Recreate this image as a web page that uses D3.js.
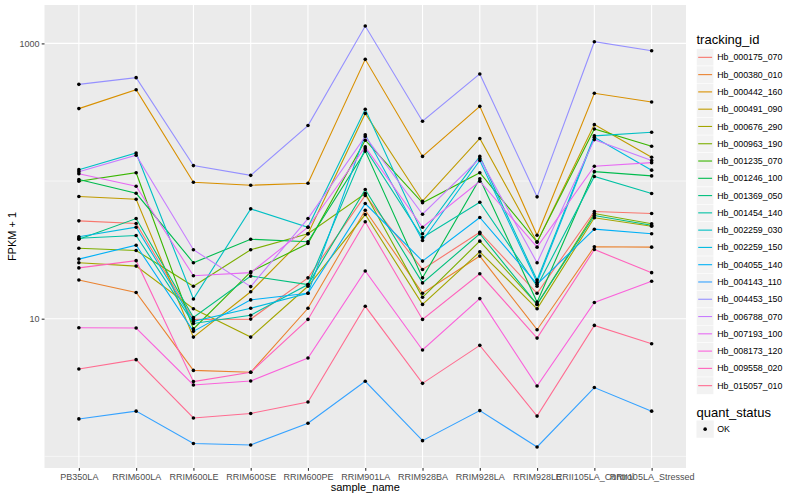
<!DOCTYPE html>
<html><head><meta charset="utf-8">
<script src="https://cdn.jsdelivr.net/npm/d3@7"></script>
<style>body{margin:0;background:#fff}svg{display:block}text{font-family:"Liberation Sans",Arial,sans-serif}</style>
</head><body>
<svg id="chart" width="800" height="500"></svg>
<script>
const samples = ["PB350LA","RRIM600LA","RRIM600LE","RRIM600SE","RRIM600PE","RRIM901LA","RRIM928BA","RRIM928LA","RRIM928LE","RRII105LA_Control","RRII105LA_Stressed"];
const trackingIds = ["Hb_000175_070","Hb_000380_010","Hb_000442_160","Hb_000491_090","Hb_000676_290","Hb_000963_190","Hb_001235_070","Hb_001246_100","Hb_001369_050","Hb_001454_140","Hb_002259_030","Hb_002259_150","Hb_004055_140","Hb_004143_110","Hb_004453_150","Hb_006788_070","Hb_007193_100","Hb_008173_120","Hb_009558_020","Hb_015057_010"];
const colors = ["#F8766D","#EA8331","#D89000","#C09B00","#A3A500","#7CAE00","#39B600","#00BB4E","#00BF7D","#00C1A3","#00BFC4","#00BAE0","#00B0F6","#35A2FF","#9590FF","#C77CFF","#E76BF3","#FA62DB","#FF62BC","#FF6C91"];
// FPKM + 1 per sample (same order as samples)
const hb_000175_070 = [51.4, 49.1, 9.88, 9.93, 19.8, 78.5, 22.8, 42.5, 15.3, 60.1, 58.1];
const hb_000380_010 = [19.1, 15.5, 4.21, 4.08, 11.9, 61.4, 15.3, 28.5, 8.32, 33.3, 33.1];
const hb_000442_160 = [336, 461, 98.0, 93.2, 96.4, 766, 151, 349, 40.4, 434, 375];
const hb_000491_090 = [77.2, 73.8, 7.35, 15.7, 41.4, 310, 71.4, 204, 36.0, 257, 149];
const hb_000676_290 = [25.5, 24.1, 11.8, 7.35, 17.2, 57.1, 12.7, 30.6, 11.8, 54.1, 47.0];
const hb_000963_190 = [32.5, 31.3, 17.2, 31.7, 41.4, 81.2, 14.3, 36.6, 12.7, 58.1, 48.9];
const hb_001235_070 = [99.7, 115, 8.43, 21.9, 35.2, 198, 69.5, 115, 36.0, 239, 179];
const hb_001246_100 = [102.5, 81.5, 25.5, 37.8, 36.2, 165, 19.8, 104, 13.2, 117, 109];
const hb_001369_050 = [37.8, 53.4, 10.2, 20.4, 17.7, 86.8, 18.2, 41.4, 12.7, 56.2, 47.8];
const hb_001454_140 = [38.4, 40.2, 9.24, 10.6, 17.7, 172, 38.9, 70.2, 17.2, 108, 81.2];
const hb_002259_030 = [121, 160, 13.9, 62.8, 46.2, 332, 41.4, 151, 19.1, 213, 226];
const hb_002259_150 = [39.4, 46.2, 9.56, 11.9, 15.3, 217, 37.0, 141, 18.4, 208, 120];
const hb_004055_140 = [27.1, 34.2, 8.09, 13.7, 15.3, 68.7, 26.2, 54.4, 17.8, 44.7, 41.4];
const hb_004143_110 = [1.87, 2.13, 1.24, 1.21, 1.74, 3.51, 1.30, 2.15, 1.17, 3.16, 2.13];
const hb_004453_150 = [504, 564, 129.5, 110, 253, 1337, 272, 600, 76.8, 1029, 885];
const hb_006788_070 = [117, 154, 31.7, 17.1, 53.4, 211, 57.4, 146, 25.5, 200, 141];
const hb_007193_100 = [113, 91.7, 20.5, 21.6, 46.2, 177, 46.2, 99.7, 33.1, 128, 136];
const hb_008173_120 = [8.60, 8.55, 3.30, 3.53, 5.18, 22.2, 5.92, 14.0, 3.24, 13.1, 18.7];
const hb_009558_020 = [23.4, 26.4, 3.49, 4.08, 9.88, 50.6, 9.88, 21.2, 7.23, 31.8, 21.6];
const hb_015057_010 = [4.31, 5.04, 1.90, 2.05, 2.48, 12.3, 3.39, 6.40, 1.96, 8.94, 6.58];
const seriesValues = [hb_000175_070,hb_000380_010,hb_000442_160,hb_000491_090,hb_000676_290,hb_000963_190,hb_001235_070,hb_001246_100,hb_001369_050,hb_001454_140,hb_002259_030,hb_002259_150,hb_004055_140,hb_004143_110,hb_004453_150,hb_006788_070,hb_007193_100,hb_008173_120,hb_009558_020,hb_015057_010];
const yMajorTicks = [10, 1000];
const yMinorTicks = [1, 100];
const quantStatus = ["OK"];

const series = trackingIds.map((id, i) => ({id, color: colors[i], values: seriesValues[i].map((v, j) => ({sample: samples[j], v}))}));

const svg = d3.select("#chart");
const P = {left: 44.5, right: 686, top: 5, bottom: 468};

const allV = seriesValues.flat();
const lo = Math.log10(d3.min(allV)), hi = Math.log10(d3.max(allV));
const pad = (hi - lo) * 0.05;
const x = d3.scalePoint().domain(samples).range([P.left, P.right]).padding(0.6);
const y = d3.scaleLog().domain([Math.pow(10, lo - pad), Math.pow(10, hi + pad)]).range([P.bottom, P.top]);

svg.append("rect").attr("x", P.left).attr("y", P.top).attr("width", P.right - P.left).attr("height", P.bottom - P.top).attr("fill", "#EBEBEB");
const grid = svg.append("g");
grid.selectAll("line.minor").data(yMinorTicks).enter().append("line")
  .attr("x1", P.left).attr("x2", P.right).attr("y1", d => y(d)).attr("y2", d => y(d))
  .attr("stroke", "#fff").attr("stroke-width", 0.55);
grid.selectAll("line.majory").data(yMajorTicks).enter().append("line")
  .attr("x1", P.left).attr("x2", P.right).attr("y1", d => y(d)).attr("y2", d => y(d))
  .attr("stroke", "#fff").attr("stroke-width", 1.1);
grid.selectAll("line.majorx").data(samples).enter().append("line")
  .attr("x1", d => x(d)).attr("x2", d => x(d)).attr("y1", P.top).attr("y2", P.bottom)
  .attr("stroke", "#fff").attr("stroke-width", 1.1);

const line = d3.line().x(d => x(d.sample)).y(d => y(d.v));
svg.append("g").selectAll("path").data(series).enter().append("path")
  .attr("d", d => line(d.values)).attr("fill", "none").attr("stroke", d => d.color).attr("stroke-width", 1.1);
svg.append("g").selectAll("g").data(series).enter().append("g")
  .selectAll("circle").data(d => d.values).enter().append("circle")
  .attr("cx", d => x(d.sample)).attr("cy", d => y(d.v)).attr("r", 1.8).attr("fill", "#000");

// axes
const yAxis = d3.axisLeft(y).tickValues(yMajorTicks).tickFormat(d3.format("d")).tickSize(2.8).tickPadding(2.2);
const gy = svg.append("g").attr("transform", `translate(${P.left},0)`).call(yAxis);
const xAxis = d3.axisBottom(x).tickSize(2.8).tickPadding(2.5);
const gx = svg.append("g").attr("transform", `translate(0,${P.bottom})`).call(xAxis);
[gx, gy].forEach(g => {
  g.select(".domain").remove();
  g.selectAll(".tick line").attr("stroke", "#333").attr("stroke-width", 1.1);
  g.selectAll(".tick text").attr("fill", "#4D4D4D").style("font-size", "9px").style("font-family", '"Liberation Sans",Arial,sans-serif');
});

svg.append("text").attr("x", (P.left + P.right) / 2).attr("y", 491).attr("text-anchor", "middle")
  .style("font-size", "11px").attr("fill", "#000").text("sample_name");
svg.append("text").attr("transform", `translate(16,${(P.top + P.bottom) / 2}) rotate(-90)`).attr("text-anchor", "middle")
  .style("font-size", "11px").attr("fill", "#000").text("FPKM + 1");

// legend: tracking_id
const key = 17.28, lx = 696.5, ly0 = 48.7;
const leg = svg.append("g");
leg.append("text").attr("x", lx).attr("y", 44).style("font-size", "13px").attr("fill", "#000").text("tracking_id");
const rows = leg.selectAll("g.row").data(series).enter().append("g").attr("transform", (d, i) => `translate(${lx},${ly0 + i * key})`);
rows.append("rect").attr("width", key).attr("height", key).attr("fill", "#F2F2F2").attr("stroke", "#fff").attr("stroke-width", 0.5);
rows.append("line").attr("x1", 1.7).attr("x2", key - 1.7).attr("y1", key / 2).attr("y2", key / 2).attr("stroke", d => d.color).attr("stroke-width", 1.1);
rows.append("text").attr("x", key + 3.5).attr("y", key / 2).attr("dy", "0.35em").style("font-size", "8.8px").attr("fill", "#000").text(d => d.id);

// legend: quant_status
const q = svg.append("g");
q.append("text").attr("x", lx).attr("y", 417).style("font-size", "13px").attr("fill", "#000").text("quant_status");
const qr = q.selectAll("g").data(quantStatus).enter().append("g").attr("transform", (d, i) => `translate(${lx},${420.5 + i * key})`);
qr.append("rect").attr("width", key).attr("height", key).attr("fill", "#F2F2F2");
qr.append("circle").attr("cx", key / 2).attr("cy", key / 2).attr("r", 1.8).attr("fill", "#000");
qr.append("text").attr("x", key + 3.5).attr("y", key / 2).attr("dy", "0.35em").style("font-size", "8.8px").attr("fill", "#000").text(d => d);
</script>
</body></html>
